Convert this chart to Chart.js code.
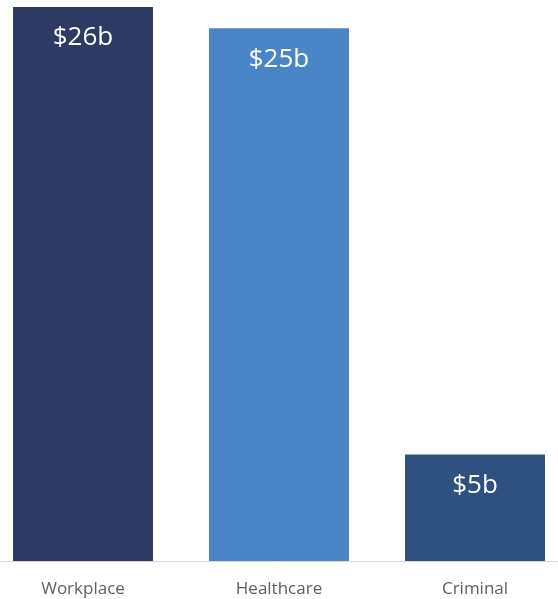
<!DOCTYPE html>
<html lang="en">
<head>
  <meta charset="UTF-8">
  <title>Costs by category</title>
  <script src="https://cdn.jsdelivr.net/npm/chart.js"></script>
  <style>
    html, body {
      margin: 0;
      padding: 0;
      background: #fff;
      overflow: hidden;
    }
    .wrap {
      position: relative;
      width: 558px;
      height: 599px;
      overflow: hidden;
    }
    /* canvas is a bit wider than the window so the outer bars sit close to the edges */
    #costChart {
      position: absolute;
      left: -15px;
      top: 0;
    }
  </style>
</head>
<body>
  <div class="wrap">
    <canvas id="costChart" width="588" height="599"></canvas>
  </div>

  <script>
    const categories = ['Workplace', 'Healthcare', 'Criminal'];
    const costs = [26, 25, 5];            // billions of dollars
    const costLabels = ['$26b', '$25b', '$5b'];
    const barColors = ['#2d3a63', '#4a85c7', '#2e5182'];

    // white value text inside the top of each bar
    const barValueLabels = {
      id: 'barValueLabels',
      afterDatasetsDraw(chart) {
        const ctx = chart.ctx;
        const meta = chart.getDatasetMeta(0);
        ctx.save();
        ctx.fillStyle = '#ffffff';
        ctx.font = '26px "Open Sans", sans-serif';
        ctx.textAlign = 'center';
        ctx.textBaseline = 'middle';
        meta.data.forEach((bar, i) => {
          ctx.fillText(costLabels[i], bar.x, bar.y + 31);
        });
        ctx.restore();
      }
    };

    const ctx = document.getElementById('costChart').getContext('2d');
    new Chart(ctx, {
      type: 'bar',
      data: {
        labels: categories,
        datasets: [{
          data: costs,
          backgroundColor: barColors,
          categoryPercentage: 1,
          barPercentage: 0.714
        }]
      },
      options: {
        responsive: false,
        animation: false,
        layout: { padding: { top: 7, bottom: 1, left: 0, right: 0 } },
        plugins: {
          legend: { display: false },
          tooltip: { enabled: false }
        },
        scales: {
          x: {
            grid: { display: false, drawTicks: false },
            border: { display: true, color: '#d9d9d9', width: 1 },
            ticks: {
              color: '#5f5f5f',
              padding: 18,
              font: { family: '"Open Sans", sans-serif', size: 17 }
            },
            afterFit(scale) {
              scale.height = 37;
            }
          },
          y: {
            display: false,
            min: 0,
            max: 26
          }
        }
      },
      plugins: [barValueLabels]
    });
  </script>
</body>
</html>
